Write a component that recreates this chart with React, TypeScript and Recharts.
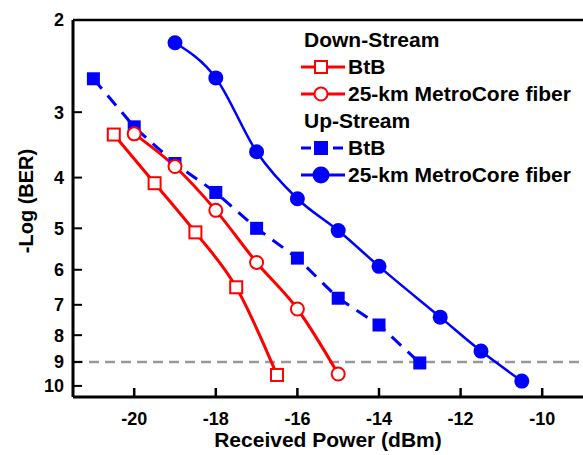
import { LineChart, Line, XAxis, YAxis, ReferenceLine, Legend } from 'recharts'

// received power (dBm) and -log(BER)
const DS_BTB_X = [-20.5, -19.5, -18.5, -17.5, -16.5]
const DS_BTB_Y = [3.31, 4.1, 5.09, 6.48, 9.53]
const DS_FIBER_X = [-20, -19, -18, -17, -16, -15]
const DS_FIBER_Y = [3.3, 3.81, 4.62, 5.81, 7.13, 9.49]
const US_BTB_X = [-21, -20, -19, -18, -17, -16, -15, -14, -13]
const US_BTB_Y = [2.59, 3.2, 3.76, 4.27, 5.0, 5.7, 6.8, 7.65, 9.04]
const US_FIBER_X = [-19, -18, -17, -16, -15, -14, -12.5, -11.5, -10.5]
const US_FIBER_Y = [2.21, 2.58, 3.57, 4.39, 5.05, 5.91, 7.39, 8.58, 9.79]

const X_MAJOR = [-20, -18, -16, -14, -12, -10]
const X_MINOR = [-21, -19, -17, -15, -13, -11, -9]
const Y_MAJOR = [2, 3, 4, 5, 6, 7, 8, 9, 10]
const BER_LIMIT = 9

const RED = '#ff0000'
const BLUE = '#0000ff'
const FONT = '"Liberation Sans", Arial, sans-serif'
const X_DOMAIN = [-21.5, -9]
const Y_DOMAIN = [2, 10.5]

const toPoints = (xs: number[], ys: number[]) => xs.map((x, i) => ({ x, y: ys[i] }))

// minor ticks every 0.1 between the decade labels
const yMinor: number[] = []
Y_MAJOR.forEach(m => {
  for (let k = 1; k < 10; k++) {
    const v = Math.round((m + k / 10) * 10) / 10
    if (v <= 10.5) yMinor.push(v)
  }
})

const squareDot = (fill: string, stroke: string, size: number) => (p: any) => (
  <rect key={p.index} x={p.cx - size / 2} y={p.cy - size / 2} width={size} height={size}
    fill={fill} stroke={stroke} strokeWidth={fill === 'white' ? 2 : 0} />
)
const circleDot = (fill: string, stroke: string, r: number) => (p: any) => (
  <circle key={p.index} cx={p.cx} cy={p.cy} r={r} fill={fill} stroke={stroke}
    strokeWidth={fill === 'white' ? 2 : 0} />
)

const LegendIcon = ({ color, shape, filled, dashed }: any) => (
  <svg width={46} height={27} style={{ display: 'block', marginRight: 2 }}>
    <line x1={1} x2={45} y1={14} y2={14} stroke={color} strokeWidth={3}
      strokeDasharray={dashed ? '10 6' : undefined} />
    {shape === 'square'
      ? <rect x={15} y={8} width={12} height={12} fill={filled ? color : 'white'} stroke={color} strokeWidth={2} />
      : <circle cx={21} cy={14} r={filled ? 7.5 : 6.5} fill={filled ? color : 'white'} stroke={color} strokeWidth={2} />}
  </svg>
)

const legendRows = [
  { title: 'Down-Stream' },
  { label: 'BtB', color: RED, shape: 'square', filled: false },
  { label: '25-km MetroCore fiber', color: RED, shape: 'circle', filled: false },
  { title: 'Up-Stream' },
  { label: 'BtB', color: BLUE, shape: 'square', filled: true, dashed: true },
  { label: '25-km MetroCore fiber', color: BLUE, shape: 'circle', filled: true },
]

const LegendBox = () => (
  <div style={{ fontFamily: FONT, fontWeight: 'bold', fontSize: 21, color: '#000' }}>
    {legendRows.map((r: any, i) => (
      <div key={i} style={{ display: 'flex', alignItems: 'center', height: 27, whiteSpace: 'nowrap' }}>
        {r.title
          ? <span style={{ marginLeft: 4 }}>{r.title}</span>
          : <><LegendIcon {...r} /><span>{r.label}</span></>}
      </div>
    ))}
  </div>
)

const YLabel = () => (
  <text x={33} y={201} transform="rotate(-90, 33, 201)" textAnchor="middle"
    fontSize={20} fontWeight="bold" fill="#000">-Log (BER)</text>
)

// minor axes only draw their tick marks
const NoLabel = () => <g />

const tickFont = { fontSize: 18, fontWeight: 'bold', fill: '#000' }
const xTickLine = { stroke: '#000', strokeWidth: 2.5 }
const yTickLine = { stroke: '#000', strokeWidth: 2 }

export default function App() {
  return (
    <div style={{ position: 'absolute', left: 0, top: 0, background: '#fff', fontFamily: FONT }}>
      <LineChart width={583} height={455} margin={{ top: 20, right: 0, bottom: 0, left: 0 }}
        style={{ fontFamily: FONT }}>
        <XAxis xAxisId="minor" type="number" domain={X_DOMAIN} ticks={X_MINOR} interval={0}
          allowDataOverflow height={0} tickSize={-5} tick={<NoLabel />} tickLine={xTickLine} axisLine={false} />
        <XAxis type="number" dataKey="x" domain={X_DOMAIN} ticks={X_MAJOR} interval={0}
          allowDataOverflow height={58} tickSize={-9} tickMargin={24} tick={tickFont} tickLine={xTickLine}
          axisLine={{ stroke: '#000', strokeWidth: 3 }}
          label={{ value: 'Received Power (dBm)', position: 'insideBottom', offset: 8,
            style: { fontSize: 21, fontWeight: 'bold', fill: '#000' } }} />
        <YAxis yAxisId="minor" type="number" scale="log" domain={Y_DOMAIN} reversed allowDataOverflow
          ticks={yMinor} interval={0} width={0} tickSize={-5} tick={<NoLabel />} tickLine={yTickLine} axisLine={false} />
        <YAxis type="number" scale="log" domain={Y_DOMAIN} reversed allowDataOverflow
          ticks={Y_MAJOR} interval={0} width={73} tickSize={-9} tickMargin={18} tick={tickFont}
          tickLine={yTickLine} axisLine={{ stroke: '#000', strokeWidth: 3 }} label={<YLabel />} />
        <ReferenceLine y={2} stroke="#000" strokeWidth={2.5} />
        <ReferenceLine y={BER_LIMIT} stroke="#999" strokeWidth={2.5} strokeDasharray="10 6" />
        <Legend layout="vertical" align="center" verticalAlign="middle" content={<LegendBox />}
          wrapperStyle={{ left: 300, top: 26, width: 283 }} />
        <Line data={toPoints(US_FIBER_X, US_FIBER_Y)} dataKey="y" type="monotone" stroke={BLUE}
          strokeWidth={2.5} dot={circleDot(BLUE, BLUE, 7.5)} isAnimationActive={false} />
        <Line data={toPoints(US_BTB_X, US_BTB_Y)} dataKey="y" type="linear" stroke={BLUE}
          strokeWidth={3} strokeDasharray="13 9" dot={squareDot(BLUE, BLUE, 13)} isAnimationActive={false} />
        <Line data={toPoints(DS_FIBER_X, DS_FIBER_Y)} dataKey="y" type="monotone" stroke={RED}
          strokeWidth={3} dot={circleDot('white', RED, 6.5)} isAnimationActive={false} />
        <Line data={toPoints(DS_BTB_X, DS_BTB_Y)} dataKey="y" type="monotone" stroke={RED}
          strokeWidth={3} dot={squareDot('white', RED, 12)} isAnimationActive={false} />
      </LineChart>
    </div>
  )
}
